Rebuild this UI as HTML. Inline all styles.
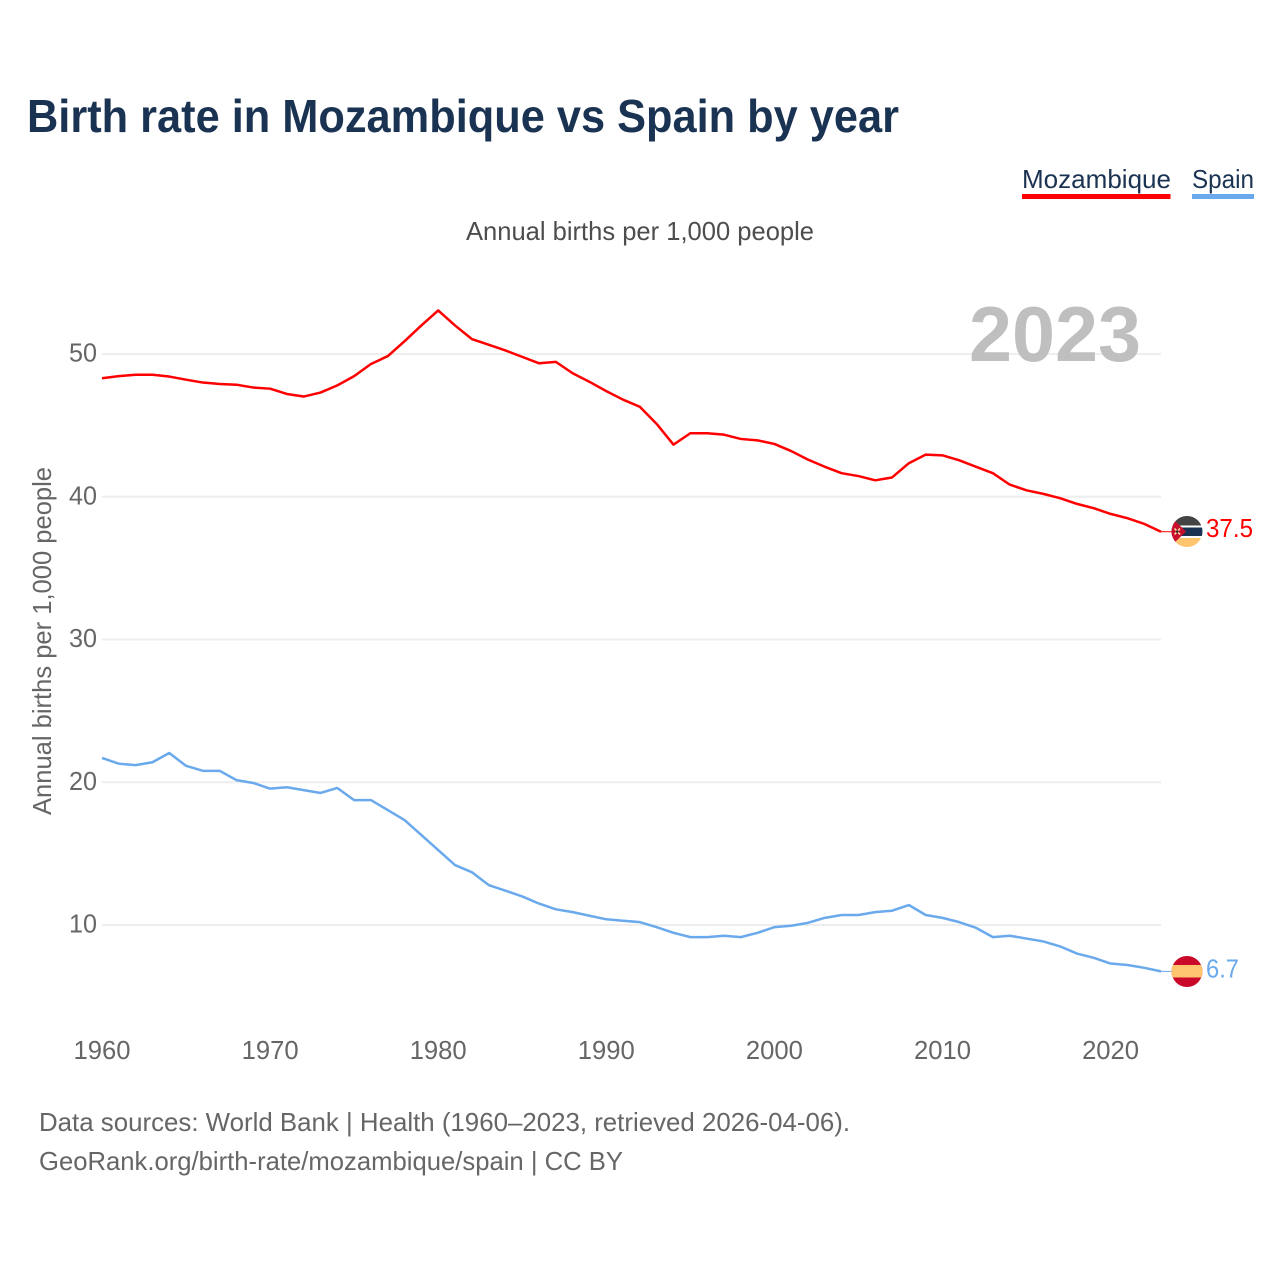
<!DOCTYPE html>
<html lang="en">
<head>
<meta charset="utf-8">
<title>Birth rate in Mozambique vs Spain by year</title>
<style>
  html, body { margin: 0; padding: 0; background: #fff; }
  svg { display: block; }
  text { font-family: "Liberation Sans", sans-serif; }
</style>
</head>
<body>
<svg id="chart" xmlns="http://www.w3.org/2000/svg" width="1280" height="1280" viewBox="0 0 1280 1280">
  <defs>
    <clipPath id="moz-clip"><circle cx="1187" cy="531.5" r="15.5"/></clipPath>
    <clipPath id="esp-clip"><circle cx="1187" cy="971.5" r="15.5"/></clipPath>
  </defs>
  <rect x="0" y="0" width="1280" height="1280" fill="#ffffff"/>

  <text x="27" y="132" font-size="46" font-weight="700" fill="#1a3352" textLength="872" lengthAdjust="spacingAndGlyphs">Birth rate in Mozambique vs Spain by year</text>

  <g>
    <g>
      <text x="1022" y="188" font-size="26" fill="#1a3352" textLength="149" lengthAdjust="spacingAndGlyphs">Mozambique</text>
      <rect x="1022" y="194" width="148.5" height="5" fill="#ff0000"/>
    </g>
    <g>
      <text x="1192" y="188" font-size="26" fill="#1a3352" textLength="62" lengthAdjust="spacingAndGlyphs">Spain</text>
      <rect x="1192" y="194" width="62" height="5" fill="#6aa9ec"/>
    </g>
  </g>

  <text x="466" y="240" font-size="26" fill="#4d4d4d" textLength="348" lengthAdjust="spacingAndGlyphs">Annual births per 1,000 people</text>

  <text transform="translate(51 815) rotate(-90)" x="0" y="0" font-size="26" fill="#666666" textLength="348" lengthAdjust="spacingAndGlyphs">Annual births per 1,000 people</text>

  <g id="grid"></g>
  <g id="y-ticks"></g>
  <g id="x-ticks"></g>

  <text id="year-label" x="969" y="361" font-size="78" font-weight="700" fill="#bfbfbf" textLength="172" lengthAdjust="spacingAndGlyphs">2023</text>

  <g id="lines"></g>

  <g clip-path="url(#moz-clip)">
    <rect x="1170" y="515" width="34" height="10.5" fill="#444444"/>
    <rect x="1170" y="525.5" width="34" height="2" fill="#ffffff"/>
    <rect x="1170" y="527.5" width="34" height="8.5" fill="#1a3352"/>
    <rect x="1170" y="536" width="34" height="2" fill="#ffffff"/>
    <rect x="1170" y="538" width="34" height="10" fill="#ffc46e"/>
    <polygon points="1170,516 1186,531.5 1170,547" fill="#c8102e"/>
    <path d="M1174.5 528.5 L1180 534.5 M1180 528.5 L1174.5 534.5" stroke="#ffe0a0" stroke-width="1.5"/>
    <circle cx="1177.2" cy="531.5" r="1.3" fill="#222222"/>
  </g>
  <g clip-path="url(#esp-clip)">
    <rect x="1170" y="955" width="34" height="34" fill="#c9082a"/>
    <rect x="1170" y="965" width="34" height="12.5" fill="#ffc46e"/>
  </g>

  <g id="end-labels"></g>

  <text x="39" y="1131" font-size="26" fill="#666666" textLength="811" lengthAdjust="spacingAndGlyphs">Data sources: World Bank | Health (1960–2023, retrieved 2026-04-06).</text>
  <text x="39" y="1170" font-size="26" fill="#666666" textLength="584" lengthAdjust="spacingAndGlyphs">GeoRank.org/birth-rate/mozambique/spain | CC BY</text>
</svg>

<script>
const years = [1960,1961,1962,1963,1964,1965,1966,1967,1968,1969,1970,1971,1972,1973,1974,1975,1976,1977,1978,1979,1980,1981,1982,1983,1984,1985,1986,1987,1988,1989,1990,1991,1992,1993,1994,1995,1996,1997,1998,1999,2000,2001,2002,2003,2004,2005,2006,2007,2008,2009,2010,2011,2012,2013,2014,2015,2016,2017,2018,2019,2020,2021,2022,2023];
const mozambique = [48.3,48.45,48.55,48.55,48.42,48.2,48.0,47.9,47.85,47.65,47.57,47.2,47.02,47.3,47.8,48.45,49.3,49.85,50.9,52.0,53.05,52.0,51.05,50.65,50.25,49.8,49.35,49.45,48.65,48.05,47.4,46.8,46.3,45.1,43.65,44.45,44.45,44.35,44.05,43.95,43.7,43.2,42.6,42.1,41.65,41.45,41.15,41.35,42.35,42.95,42.9,42.55,42.1,41.65,40.85,40.45,40.2,39.9,39.5,39.2,38.8,38.5,38.1,37.55];
const spain = [21.7,21.3,21.2,21.4,22.05,21.15,20.8,20.8,20.15,19.95,19.55,19.65,19.45,19.25,19.6,18.75,18.75,18.05,17.35,16.3,15.25,14.2,13.7,12.8,12.4,12.0,11.5,11.1,10.9,10.65,10.4,10.3,10.2,9.85,9.45,9.15,9.15,9.25,9.15,9.45,9.85,9.95,10.15,10.5,10.7,10.7,10.9,11.0,11.4,10.7,10.5,10.2,9.8,9.15,9.25,9.05,8.85,8.5,8.0,7.7,7.3,7.2,7.0,6.75];
const yTicks = [10,20,30,40,50];
const xTicks = [1960,1970,1980,1990,2000,2010,2020];
const mozambiqueEndLabel = "37.5";
const spainEndLabel = "6.7";

const SVG_NS = "http://www.w3.org/2000/svg";
function xScale(year) { return 102 + (year - 1960) * (1161 - 102) / 63; }
function yScale(value) { return 925 - (value - 10) * 14.275; }

function make(tag, attrs, parent, txt) {
  const el = document.createElementNS(SVG_NS, tag);
  for (const k in attrs) el.setAttribute(k, attrs[k]);
  if (txt !== undefined) el.textContent = txt;
  parent.appendChild(el);
  return el;
}

const grid = document.getElementById("grid");
const yTickGroup = document.getElementById("y-ticks");
const xTickGroup = document.getElementById("x-ticks");
const lineGroup = document.getElementById("lines");
const endGroup = document.getElementById("end-labels");

yTicks.forEach(function (t) {
  const gl = make("line", { x1: 102, x2: 1161, y1: yScale(t), y2: yScale(t), stroke: "#eeeeee", "stroke-width": 2 }, grid);
  
  
  const lb = make("text", { x: 97, y: yScale(t) + 7.5, "text-anchor": "end", "font-size": 26, fill: "#666666", textLength: 28, lengthAdjust: "spacingAndGlyphs" }, yTickGroup, String(t));
  
  
});

xTicks.forEach(function (t) {
  const lb = make("text", { x: xScale(t), y: 1059, "text-anchor": "middle", "font-size": 26, fill: "#666666", textLength: 57, lengthAdjust: "spacingAndGlyphs" }, xTickGroup, String(t));
  
  
});

function pathFor(values) {
  return values.map(function (v, i) {
    return (i ? "L" : "M") + xScale(years[i]).toFixed(2) + " " + yScale(v).toFixed(2);
  }).join(" ");
}

const mozLine = make("path", { d: pathFor(mozambique), fill: "none", stroke: "#ff0000", "stroke-width": 2.5, "stroke-linejoin": "round" }, lineGroup);



const spainLine = make("path", { d: pathFor(spain), fill: "none", stroke: "#6aa9ec", "stroke-width": 2.5, "stroke-linejoin": "round" }, lineGroup);



const lastYear = years[years.length - 1];
const mozLast = mozambique[mozambique.length - 1];
const spainLast = spain[spain.length - 1];

const mozTail = make("line", { x1: xScale(lastYear), x2: 1173, y1: yScale(mozLast), y2: yScale(mozLast), stroke: "#ff0000", "stroke-width": 1 }, lineGroup);



const spainTail = make("line", { x1: xScale(lastYear), x2: 1173, y1: yScale(spainLast), y2: yScale(spainLast), stroke: "#6aa9ec", "stroke-width": 1 }, lineGroup);



const mozEnd = make("text", { x: 1206, y: yScale(mozLast) + 5.5, "font-size": 26, fill: "#ff0000", textLength: 47, lengthAdjust: "spacingAndGlyphs" }, endGroup, mozambiqueEndLabel);



const spainEnd = make("text", { x: 1206, y: yScale(spainLast) + 6, "font-size": 26, fill: "#6aa9ec", textLength: 33, lengthAdjust: "spacingAndGlyphs" }, endGroup, spainEndLabel);


</script>
</body>
</html>
